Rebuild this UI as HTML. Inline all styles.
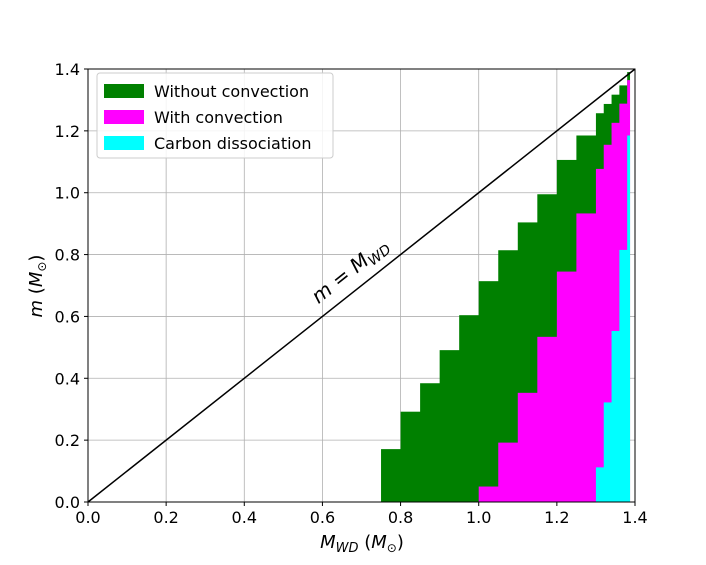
<!DOCTYPE html>
<html><head><meta charset="utf-8"><style>
html,body{margin:0;padding:0;background:#fff;}
svg{display:block;font-family:"DejaVu Sans","Liberation Sans",sans-serif;}
</style></head><body>
<svg id="chart" width="706" height="565"></svg>
<script>
const xEdges=[0.75,0.80,0.85,0.90,0.95,1.00,1.05,1.10,1.15,1.20,1.25,1.30,1.32,1.34,1.36,1.38,1.386];
const greenHeights=[0.171,0.292,0.384,0.491,0.604,0.714,0.814,0.904,0.995,1.106,1.185,1.257,1.287,1.317,1.347,1.39];
const magentaHeights=[0,0,0,0,0,0.05,0.192,0.353,0.534,0.745,0.933,1.077,1.155,1.226,1.288,1.364];
const cyanHeights=[0,0,0,0,0,0,0,0,0,0,0,0.112,0.322,0.553,0.815,1.185];
const xTicks=[0,0.2,0.4,0.6,0.8,1.0,1.2,1.4];
const yTicks=[0,0.2,0.4,0.6,0.8,1.0,1.2,1.4];
const X0=88,X1=635,Y0=502,Y1=69;
const sx=v=>X0+(v/1.4)*(X1-X0);
const sy=v=>Y0-(v/1.4)*(Y0-Y1);
const svg=document.getElementById('chart');
const NS='http://www.w3.org/2000/svg';
function mk(tag,attrs,parent){const e=document.createElementNS(NS,tag);for(const k in attrs)e.setAttribute(k,attrs[k]);(parent||svg).appendChild(e);return e;}
xTicks.forEach(t=>{const l=mk('line',{x1:sx(t),x2:sx(t),y1:Y1,y2:Y0,stroke:'#b0b0b0','stroke-width':0.8});

});
yTicks.forEach(t=>{const l=mk('line',{x1:X0,x2:X1,y1:sy(t),y2:sy(t),stroke:'#b0b0b0','stroke-width':0.8});

});
function series(h,color,name){
  const g=mk('g',{});
  
  
  h.forEach((v,i)=>{if(v<=0)return;
    const r=mk('rect',{x:sx(xEdges[i]),y:sy(v),width:sx(xEdges[i+1])-sx(xEdges[i])+0.5,height:sy(0)-sy(v),fill:color},g);
    
    
  });
}
series(greenHeights,'#008000','without-convection-region');
series(magentaHeights,'#ff00ff','with-convection-region');
series(cyanHeights,'#00ffff','carbon-dissociation-region');
const d=mk('line',{x1:sx(0),y1:sy(0),x2:sx(1.4),y2:sy(1.4),stroke:'#000','stroke-width':1.5});


const f=mk('rect',{x:X0,y:Y1,width:X1-X0,height:Y0-Y1,fill:'none',stroke:'#000','stroke-width':1});


xTicks.forEach(t=>{mk('line',{x1:sx(t),x2:sx(t),y1:Y0,y2:Y0+4,stroke:'#000'});
const tx=mk('text',{x:sx(t),y:Y0+21,'text-anchor':'middle','font-size':16});tx.textContent=t.toFixed(1);

});
yTicks.forEach(t=>{mk('line',{x1:X0-4,x2:X0,y1:sy(t),y2:sy(t),stroke:'#000'});
const tx=mk('text',{x:X0-8,y:sy(t)+6,'text-anchor':'end','font-size':16});tx.textContent=t.toFixed(1);

});
</script>
<svg width="706" height="565" style="position:absolute;left:0;top:0">
<text x="354" y="276" transform="rotate(-38.4 354 276)" text-anchor="middle" font-size="20" font-family="DejaVu Sans, sans-serif"><tspan font-style="italic">m</tspan> = <tspan font-style="italic">M</tspan><tspan font-style="italic" font-size="14" dy="4">WD</tspan></text>
<text x="362" y="548" text-anchor="middle" font-size="18" font-family="DejaVu Sans, sans-serif"><tspan font-style="italic">M</tspan><tspan font-style="italic" font-size="13" dy="4">WD</tspan><tspan dy="-4"> (</tspan><tspan font-style="italic">M</tspan><tspan font-size="12" dy="4">⊙</tspan><tspan dy="-4">)</tspan></text>
<text x="42" y="286" transform="rotate(-90 42 286)" text-anchor="middle" font-size="18" font-family="DejaVu Sans, sans-serif"><tspan font-style="italic">m</tspan> (<tspan font-style="italic">M</tspan><tspan font-size="12" dy="4">⊙</tspan><tspan dy="-4">)</tspan></text>
<g font-family="DejaVu Sans, sans-serif" font-size="16">
<rect x="97" y="73" width="236" height="85" rx="3" fill="#fff" fill-opacity="0.85" stroke="#ccc"/>
<rect x="104" y="84" width="40" height="14" fill="#008000"/>
<text x="154" y="97">Without convection</text>
<rect x="104" y="110" width="40" height="14" fill="#ff00ff"/>
<text x="154" y="123">With convection</text>
<rect x="104" y="136" width="40" height="14" fill="#00ffff"/>
<text x="154" y="149">Carbon dissociation</text>
</g>
</svg>
</body></html>
